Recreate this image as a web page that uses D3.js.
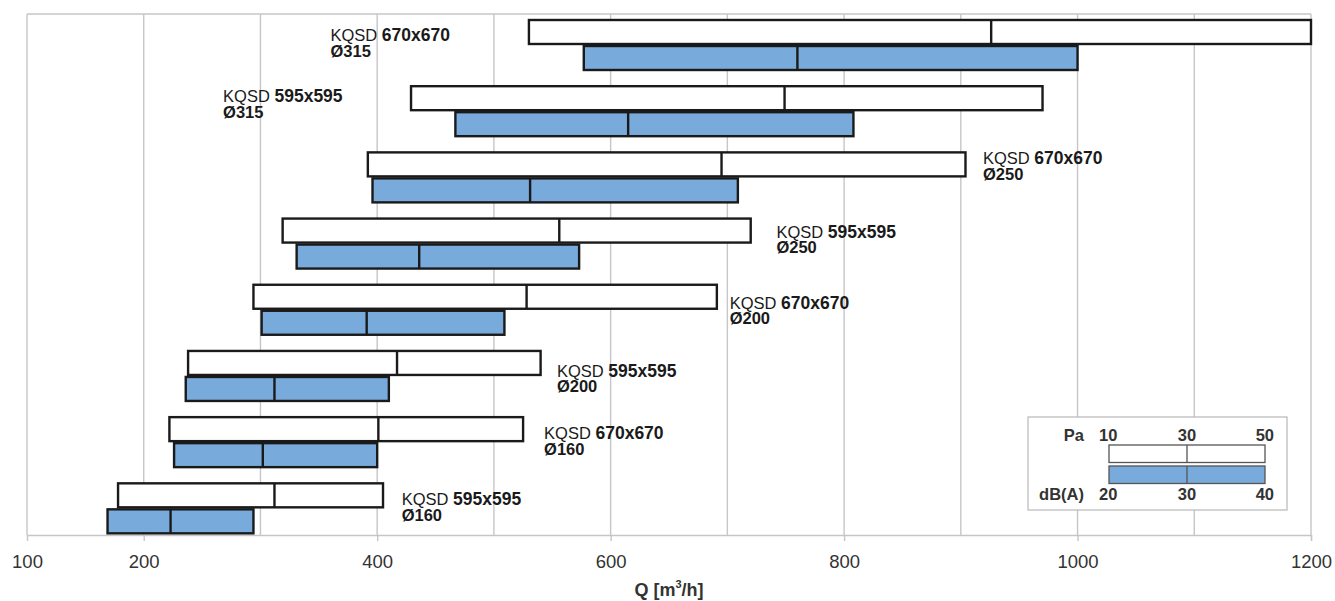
<!DOCTYPE html>
<html>
<head>
<meta charset="utf-8">
<script src="https://cdn.jsdelivr.net/npm/d3@7"></script>
<style>
  html, body { margin: 0; padding: 0; background: #fff; }
  svg { display: block; font-family: "Liberation Sans", Arial, sans-serif; }
</style>
</head>
<body>
<svg id="chart" width="1335" height="601"></svg>
<script>
// ---- data ----
const models   = ["670x670", "595x595", "670x670", "595x595", "670x670", "595x595", "670x670", "595x595"];
const ducts    = ["Ø315", "Ø315", "Ø250", "Ø250", "Ø200", "Ø200", "Ø160", "Ø160"];
// Q [m3/h] at 10 / 30 / 50 Pa
const paMin    = [530, 429, 392, 319, 294, 238, 222, 178];
const paMid    = [926, 749, 695, 556, 528, 417, 401, 312];
const paMax    = [1200, 970, 904, 720, 691, 540, 525, 405];
// Q [m3/h] at 20 / 30 / 40 dB(A)
const dbMin    = [577, 467, 396, 331, 301, 236, 226, 169];
const dbMid    = [760, 615, 531, 436, 391, 312, 302, 223];
const dbMax    = [1000, 808, 709, 573, 509, 410, 400, 294];
// where each label starts (Q value)
const labelQ   = [360, 268, 919, 742, 702, 554, 543, 421];
const xTicks   = [100, 200, 400, 600, 800, 1000, 1200];
const xGrid    = [200, 300, 400, 500, 600, 700, 800, 900, 1000, 1100, 1200];
const legendPa = ["10", "30", "50"];
const legendDb = ["20", "30", "40"];

(function () {
// ---- layout ----
const svg = d3.select("#chart");
const pL = 27, pR = 1311, pT = 14, pB = 535;
const x = d3.scaleLinear().domain([100, 1200]).range([pL, pR]);
const rows = d3.range(models.length);
const y = d3.scaleBand().domain(rows).range([20, 20 + 8 * 66.19]).padding(0);
const barH = 24, blueOff = 26;
const labelDy = [21, 16, 12, 19, 24, 26, 22, 22];
const blue = "#78aadb", ink = "#1a1a1a", grid = "#c6c6c8";

// grid
svg.append("g").selectAll("line").data(xGrid).join("line")
  .attr("x1", d => x(d)).attr("x2", d => x(d))
  .attr("y1", pT).attr("y2", pB)
  .attr("stroke", grid).attr("stroke-width", 1.4);
svg.append("line").attr("x1", pL).attr("x2", pR).attr("y1", pT).attr("y2", pT)
  .attr("stroke", grid).attr("stroke-width", 1.4);
svg.append("line").attr("x1", pL).attr("x2", pL).attr("y1", pT).attr("y2", pB)
  .attr("stroke", grid).attr("stroke-width", 1.4);

// x axis
const axis = svg.append("g").attr("transform", `translate(0,${pB})`)
  .call(d3.axisBottom(x).tickValues(xTicks).tickSize(6).tickPadding(14).tickFormat(d3.format("d")));
axis.select(".domain").attr("stroke", grid).attr("stroke-width", 1.4);
axis.selectAll(".tick line").attr("stroke", grid).attr("stroke-width", 1.4)
  .filter(d => d === 100).remove();
axis.selectAll(".tick text").attr("font-size", 18.5).attr("fill", "#333")
  .attr("font-family", "Liberation Sans, Arial, sans-serif");

// axis title
const title = svg.append("text").attr("x", (pL + pR) / 2).attr("y", 596)
  .attr("text-anchor", "middle").attr("font-size", 18).attr("font-weight", "bold").attr("fill", "#333");
title.append("tspan").text("Q [m");
title.append("tspan").text("3").attr("font-size", 11).attr("dy", -8);
title.append("tspan").text("/h]").attr("dy", 8);

// bars
function drawBar(g, yTop, lo, mid, hi, fill) {
  g.append("rect").attr("x", x(lo)).attr("y", yTop).attr("width", x(hi) - x(lo)).attr("height", barH)
    .attr("fill", fill).attr("stroke", ink).attr("stroke-width", 2.4);
  g.append("line").attr("x1", x(mid)).attr("x2", x(mid)).attr("y1", yTop).attr("y2", yTop + barH)
    .attr("stroke", ink).attr("stroke-width", 2.4);
}
const bars = svg.append("g");
rows.forEach(i => {
  drawBar(bars, y(i), paMin[i], paMid[i], paMax[i], "#fff");
  drawBar(bars, y(i) + blueOff, dbMin[i], dbMid[i], dbMax[i], blue);
});

// labels
const labels = svg.append("g").attr("font-size", 16.5).attr("fill", ink);
rows.forEach(i => {
  const t = labels.append("text").attr("x", x(labelQ[i])).attr("y", y(i) + labelDy[i]);
  t.append("tspan").text("KQSD ");
  t.append("tspan").text(models[i]).attr("font-weight", "bold").attr("font-size", 17.5);
  t.append("tspan").attr("x", x(labelQ[i])).attr("dy", 15.5).attr("font-weight", "bold").text(ducts[i]);
});

// legend
const lg = svg.append("g");
lg.append("rect").attr("x", 1028).attr("y", 417).attr("width", 259).attr("height", 93)
  .attr("fill", "#fff").attr("stroke", "#bdbdbd").attr("stroke-width", 1.3);
const lx = d3.scaleLinear().domain([0, 2]).range([1109, 1265]);
const ltxt = lg.append("g").attr("font-size", 16.5).attr("font-weight", "bold").attr("fill", "#333");
ltxt.append("text").attr("x", 1084).attr("y", 441).attr("text-anchor", "end").text("Pa");
ltxt.append("text").attr("x", 1084).attr("y", 500).attr("text-anchor", "end").text("dB(A)");
const anchors = ["start", "middle", "end"];
const lpos = k => k === 0 ? lx(0) - 10 : (k === 2 ? lx(2) + 9 : lx(1));
legendPa.forEach((s, k) => ltxt.append("text").attr("x", lpos(k)).attr("y", 441).attr("text-anchor", anchors[k]).text(s));
legendDb.forEach((s, k) => ltxt.append("text").attr("x", lpos(k)).attr("y", 500).attr("text-anchor", anchors[k]).text(s));
[[445, "#fff"], [466, blue]].forEach(([yy, f]) => {
  lg.append("rect").attr("x", lx(0)).attr("y", yy).attr("width", lx(2) - lx(0)).attr("height", 17.5)
    .attr("fill", f).attr("stroke", "#555").attr("stroke-width", 1.3);
  lg.append("line").attr("x1", lx(1)).attr("x2", lx(1)).attr("y1", yy).attr("y2", yy + 17.5)
    .attr("stroke", "#555").attr("stroke-width", 1.3);
});
})();
</script>
</body>
</html>
